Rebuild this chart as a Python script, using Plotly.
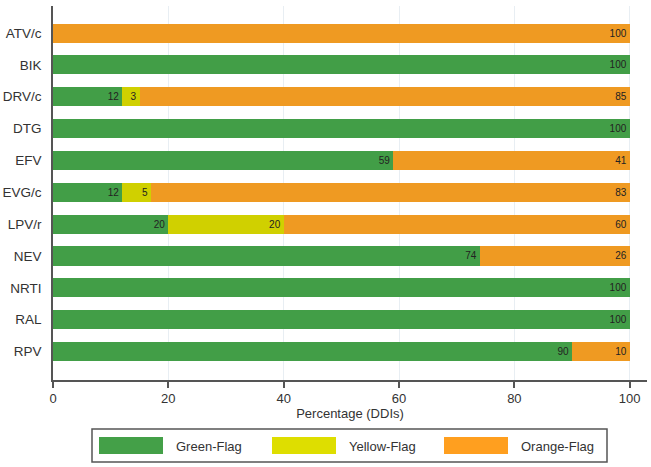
import plotly.graph_objects as go

categories = ["ATV/c", "BIK", "DRV/c", "DTG", "EFV", "EVG/c", "LPV/r", "NEV", "NRTI", "RAL", "RPV"]
green = [0, 100, 12, 100, 59, 12, 20, 74, 100, 100, 90]
yellow = [0, 0, 3, 0, 0, 5, 20, 0, 0, 0, 0]
orange = [100, 0, 85, 0, 41, 83, 60, 26, 0, 0, 10]
series_names = ["Green-Flag", "Yellow-Flag", "Orange-Flag"]
x_ticks = [0, 20, 40, 60, 80, 100]

colors = ["#429E47", "#D0D000", "#EF9A22"]
legend_colors = ["#44A048", "#DEDE00", "#FF9F1F"]

W, H = 651, 467
ml, mr, mt, mb = 53, 4, 6, 87
pw, ph = W - ml - mr, H - mt - mb

def px2paper_x(px):
    return (px - ml) / pw

def px2paper_y(py):
    return (H - mb - py) / ph

fig = go.Figure()
for name, vals, col in zip(series_names, [green, yellow, orange], colors):
    fig.add_trace(go.Bar(
        y=categories, x=vals, name=name, orientation="h",
        marker=dict(color=col, line=dict(width=0)),
        width=0.6,
        text=[str(v) if v > 0 else "" for v in vals],
        textposition="inside", insidetextanchor="end",
        textfont=dict(size=10, color="#222222", family="Liberation Sans, Arial"),
        showlegend=False,
        hoverinfo="x+y+name",
    ))

fig.update_layout(
    barmode="stack",
    width=W, height=H,
    margin=dict(l=ml, r=mr, t=mt, b=mb, autoexpand=False),
    paper_bgcolor="white", plot_bgcolor="white",
    font=dict(family="Liberation Sans, Arial", color="#333333"),
    uniformtext=dict(minsize=8, mode="show"),
)
fig.update_xaxes(
    range=[0, 103], tickvals=x_ticks, ticktext=[str(t) for t in x_ticks],
    automargin=False,
    showgrid=True, gridcolor="#E8EEF3", gridwidth=1,
    showline=True, linecolor="#555555", linewidth=1.5,
    ticks="outside", ticklen=6, tickcolor="#555555", tickwidth=1.5,
    tickfont=dict(size=13, color="#333333"),
    title=dict(text="Percentage (DDIs)", font=dict(size=13, color="#333333"), standoff=0),
    zeroline=False,
)
fig.update_yaxes(
    categoryorder="array", categoryarray=categories,
    range=[10.895, -0.85],
    automargin=False,
    showgrid=False,
    showline=True, linecolor="#555555", linewidth=1.5,
    ticks="outside", ticklen=7, tickcolor="rgba(0,0,0,0)",
    tickfont=dict(size=13.5, color="#333333"),
)

# Custom legend box with wide swatches
shapes = [dict(type="rect", xref="paper", yref="paper",
               x0=px2paper_x(92), x1=px2paper_x(607),
               y0=px2paper_y(462), y1=px2paper_y(429),
               line=dict(color="#555555", width=1.5), fillcolor="white")]
annotations = []
sw_x = [99, 272, 444]
for name, col, sx in zip(series_names, legend_colors, sw_x):
    shapes.append(dict(type="rect", xref="paper", yref="paper",
                       x0=px2paper_x(sx), x1=px2paper_x(sx + 64),
                       y0=px2paper_y(454), y1=px2paper_y(437),
                       line=dict(width=0), fillcolor=col))
    annotations.append(dict(xref="paper", yref="paper",
                            x=px2paper_x(sx + 75), y=px2paper_y(446),
                            text=name, showarrow=False, xanchor="left", yanchor="middle",
                            font=dict(size=13, color="#333333")))
fig.update_layout(shapes=shapes, annotations=annotations)

fig.write_html("out.html", config={"displayModeBar": False},
               post_script="document.body.style.margin='0px';document.body.style.overflow='hidden';")
